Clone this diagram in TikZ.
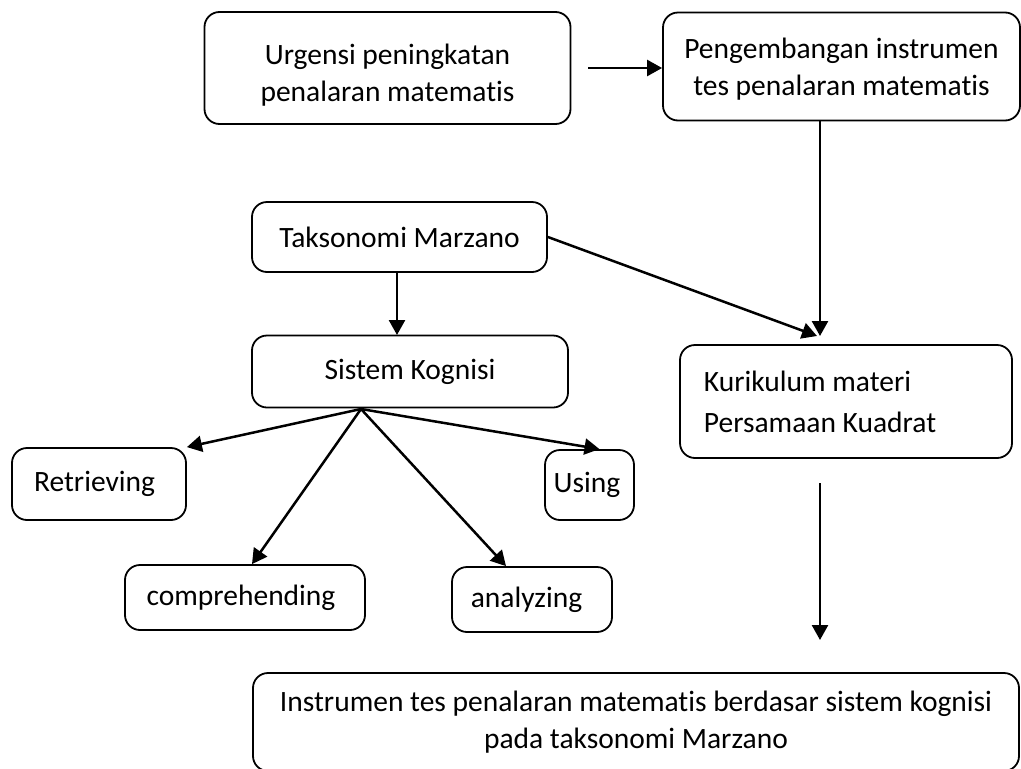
\documentclass[tikz,border=0pt]{standalone}
\usepackage{fontspec}
\setmainfont{Carlito}[Ligatures=NoCommon]
\usetikzlibrary{arrows.meta}
\begin{document}
\begin{tikzpicture}[x=1pt,y=-1pt,
 box/.style={draw, line width=1.8pt, rounded corners=15pt, align=center, inner sep=0pt, font=\fontsize{29.5}{37}\selectfont},
 arr/.style={line width=2.5pt, -{Triangle[length=15pt,width=16pt]}}]
\useasboundingbox (0,0) rectangle (1021,769);
\node[box, minimum width=366pt, minimum height=112pt] (u) at (387.5,68) {\rule{0pt}{35pt}Urgensi peningkatan\\penalaran matematis};
\node[box, minimum width=357pt, minimum height=108pt] (p) at (841.5,66.5) {\rule{0pt}{25pt}Pengembangan instrumen\\tes penalaran matematis};
\node[box, minimum width=295pt, minimum height=70pt] (t) at (399.5,237) {Taksonomi Marzano};
\node[box, minimum width=316pt, minimum height=72pt] (s) at (410,371.5) {Sistem Kognisi};
\node[box, minimum width=332pt, minimum height=113pt, align=left, font=\fontsize{29.5}{41}\selectfont] (k) at (846,401.5) {Kurikulum materi\\Persamaan Kuadrat\hspace*{52pt}};
\node[box, minimum width=174pt, minimum height=72pt] (r) at (99,484) {Retrieving\hspace*{9pt}};
\node[box, minimum width=89pt, minimum height=70pt] (us) at (589.5,485) {Using\hspace*{5pt}};
\node[box, minimum width=240pt, minimum height=65pt] (c) at (245,597.5) {comprehending\hspace*{8pt}};
\node[box, minimum width=160pt, minimum height=65pt] (a) at (532,599.5) {analyzing\hspace*{11pt}};
\node[box, minimum width=766pt, minimum height=98pt] (b) at (636,722) {Instrumen tes penalaran matematis berdasar sistem kognisi\\pada taksonomi Marzano};
% connectors
\coordinate (a1) at (588,68);
\draw[arr] (a1) -- (p.west |- a1);
\coordinate (kt) at (820,336);
\draw[arr] (p.south -| kt) -- (kt);
\coordinate (kd) at (817,336);
\draw[arr] (t.east) -- (kd);
\coordinate (tx) at (397,335);
\draw[arr] (t.south -| tx) -- (tx);
\coordinate (f) at (361,409);
\draw[arr] (f) -- (r.north east);
\draw[arr] (f) -- ([xshift=10pt]us.north);
\draw[arr] (f) -- ([xshift=7pt]c.north);
\draw[arr] (f) -- ([xshift=-26pt]a.north);
\coordinate (d1) at (820,483);
\coordinate (d2) at (820,640);
\draw[arr] (d1) -- (d2);
\end{tikzpicture}
\end{document}
